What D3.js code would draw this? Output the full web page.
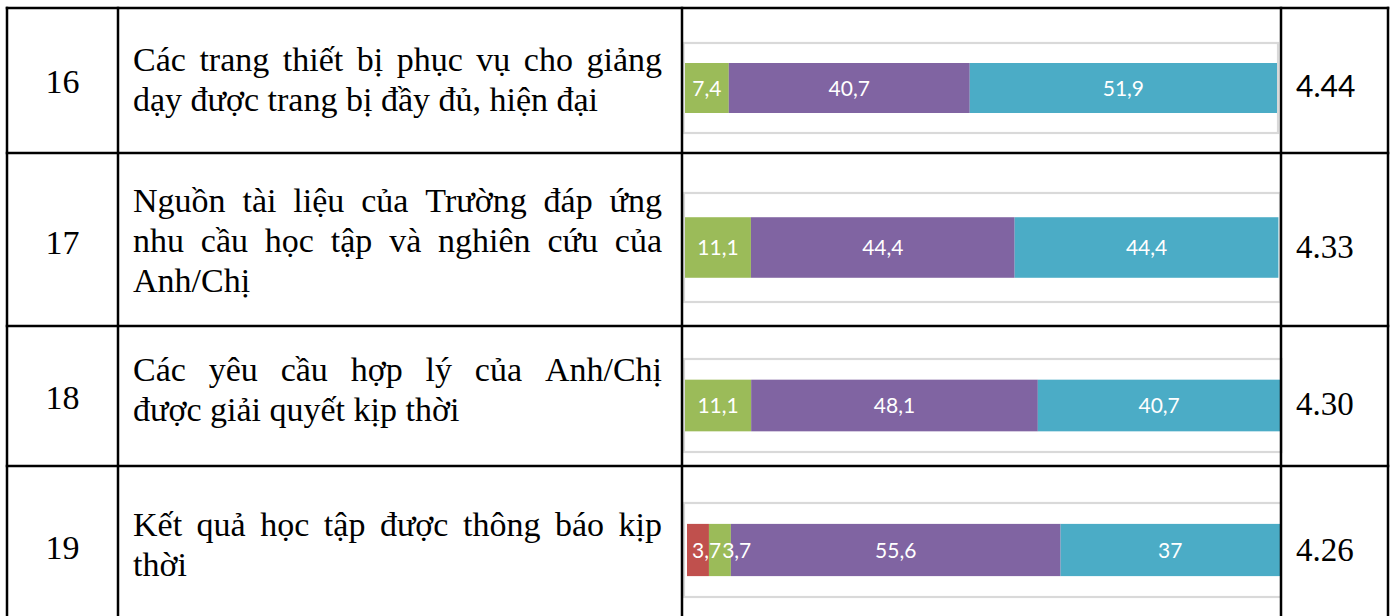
<!DOCTYPE html>
<html><head><meta charset="utf-8">
<script src="https://cdn.jsdelivr.net/npm/d3@7/dist/d3.min.js"></script>
<style>html,body{margin:0;padding:0;background:#fff;overflow:hidden}</style>
</head><body>
<svg id="c" width="1394" height="616"></svg>
<script>
// ---- data ----
const categories = ["16", "17", "18", "19"];
const descriptions = [
  ["Các trang thiết bị phục vụ cho giảng", "dạy được trang bị đầy đủ, hiện đại"],
  ["Nguồn tài liệu của Trường đáp ứng", "nhu cầu học tập và nghiên cứu của", "Anh/Chị"],
  ["Các yêu cầu hợp lý của Anh/Chị", "được giải quyết kịp thời"],
  ["Kết quả học tập được thông báo kịp", "thời"]
];
const seriesNames = ["s2", "s3", "s4", "s5"];
const s2Values = [0, 0, 0, 3.7];
const s3Values = [7.4, 11.1, 11.1, 3.7];
const s4Values = [40.7, 44.4, 48.1, 55.6];
const s5Values = [51.9, 44.4, 40.7, 37];
const meanLabels = ["4.44", "4.33", "4.30", "4.26"];

// ---- layout / style ----
const colors = ["#c0504d", "#9bbb59", "#8064a2", "#4bacc6"];
const colX = [7, 118, 682, 1281, 1388];
const rowY = [8, 153, 326, 466, 640];
const frameX = [[683.5, 1278], [684, 1280], [684, 1281.5], [684, 1281]];
const frameY = [[43, 133], [193, 302], [359, 452], [503, 597]];
const plotX = [[685, 1277], [685, 1279], [685, 1281], [687, 1280]];
const textMid = [91, 252, 401, 555.5];
const numBase = [93, 254, 409, 559];
const valBase = [97, 258, 415, 561];
const lineGap = 40;
const textLeft = 133, textRight = 662;
const serif = "'Liberation Serif', 'Times New Roman', Times, serif";
const sans = "Lato, 'Open Sans', sans-serif";

const svg = d3.select("#c");
const allSeries = [s2Values, s3Values, s4Values, s5Values];

categories.forEach((cat, i) => {
  const g = svg.append("g");
  g.append("rect")
    .attr("x", frameX[i][0]).attr("y", frameY[i][0])
    .attr("width", frameX[i][1] - frameX[i][0]).attr("height", frameY[i][1] - frameY[i][0])
    .attr("fill", "#fff").attr("stroke", "#d9d9d9").attr("stroke-width", 2.2);
  const x = d3.scaleLinear().domain([0, 100]).range(plotX[i]);
  const y = d3.scaleBand().domain([cat]).range(frameY[i]).paddingInner(0).paddingOuter(0.4);
  let acc = 0;
  const segs = allSeries.map((s, k) => {
    const v = s[i];
    const seg = { k, v, x0: acc, x1: acc + v };
    acc += v;
    return seg;
  }).filter(d => d.v > 0);
  g.selectAll("rect.seg").data(segs).join("rect").attr("class", "seg")
    .attr("x", d => x(d.x0)).attr("y", y(cat))
    .attr("width", d => x(d.x1) - x(d.x0)).attr("height", y.bandwidth())
    .attr("fill", d => colors[d.k]);
  const lbls = g.selectAll("text.lbl").data(segs).join("text").attr("class", "lbl")
    .attr("y", y(cat) + y.bandwidth() / 2)
    .attr("dy", "0.36em")
    .attr("fill", "#fff")
    .style("font-family", sans)
    .style("font-size", "21px")
    .text(d => String(d.v).replace(".", ","));
  // place labels centred, nudged right to avoid overlap
  let prevRight = plotX[i][0] + 4;
  lbls.each(function (d) {
    const w = this.getComputedTextLength();
    let left = (x(d.x0) + x(d.x1)) / 2 - w / 2;
    left = Math.max(left, prevRight + 1);
    d3.select(this).attr("x", left);
    prevRight = left + w;
  });

  svg.append("text").attr("x", (colX[0] + colX[1]) / 2).attr("y", numBase[i])
    .attr("text-anchor", "middle")
    .style("font-family", serif)
    .style("font-size", "34px").text(cat);

  svg.append("text").attr("x", 1296).attr("y", valBase[i])
    .style("font-family", i === 0 ? sans : serif)
    .style("font-size", i === 0 ? "30px" : "33px").text(meanLabels[i]);

  const lines = descriptions[i];
  const n = lines.length;
  lines.forEach((line, li) => {
    const by = textMid[i] + (li - (n - 1) / 2) * lineGap;
    const t = svg.append("text").attr("y", by)
      .style("font-family", serif)
      .style("font-size", "34px");
    const words = line.split(" ");
    if (li < n - 1 && words.length > 1) {
      const spans = words.map(w => t.append("tspan").text(w));
      const widths = spans.map(s => s.node().getComputedTextLength());
      const total = d3.sum(widths);
      const gap = (textRight - textLeft - total) / (words.length - 1);
      let cx = textLeft;
      spans.forEach((s, wi) => { s.attr("x", cx).attr("y", by); cx += widths[wi] + gap; });
    } else {
      t.attr("x", textLeft).text(line);
    }
  });
});

const grid = svg.append("g").attr("stroke", "#000").attr("stroke-width", 2.5);
colX.forEach(cx => grid.append("line").attr("x1", cx).attr("x2", cx).attr("y1", rowY[0] - 1.25).attr("y2", rowY[rowY.length - 1]));
rowY.slice(0, -1).forEach(ry => grid.append("line").attr("x1", colX[0] - 1.25).attr("x2", colX[colX.length - 1] + 1.25).attr("y1", ry).attr("y2", ry));
</script>
</body></html>
